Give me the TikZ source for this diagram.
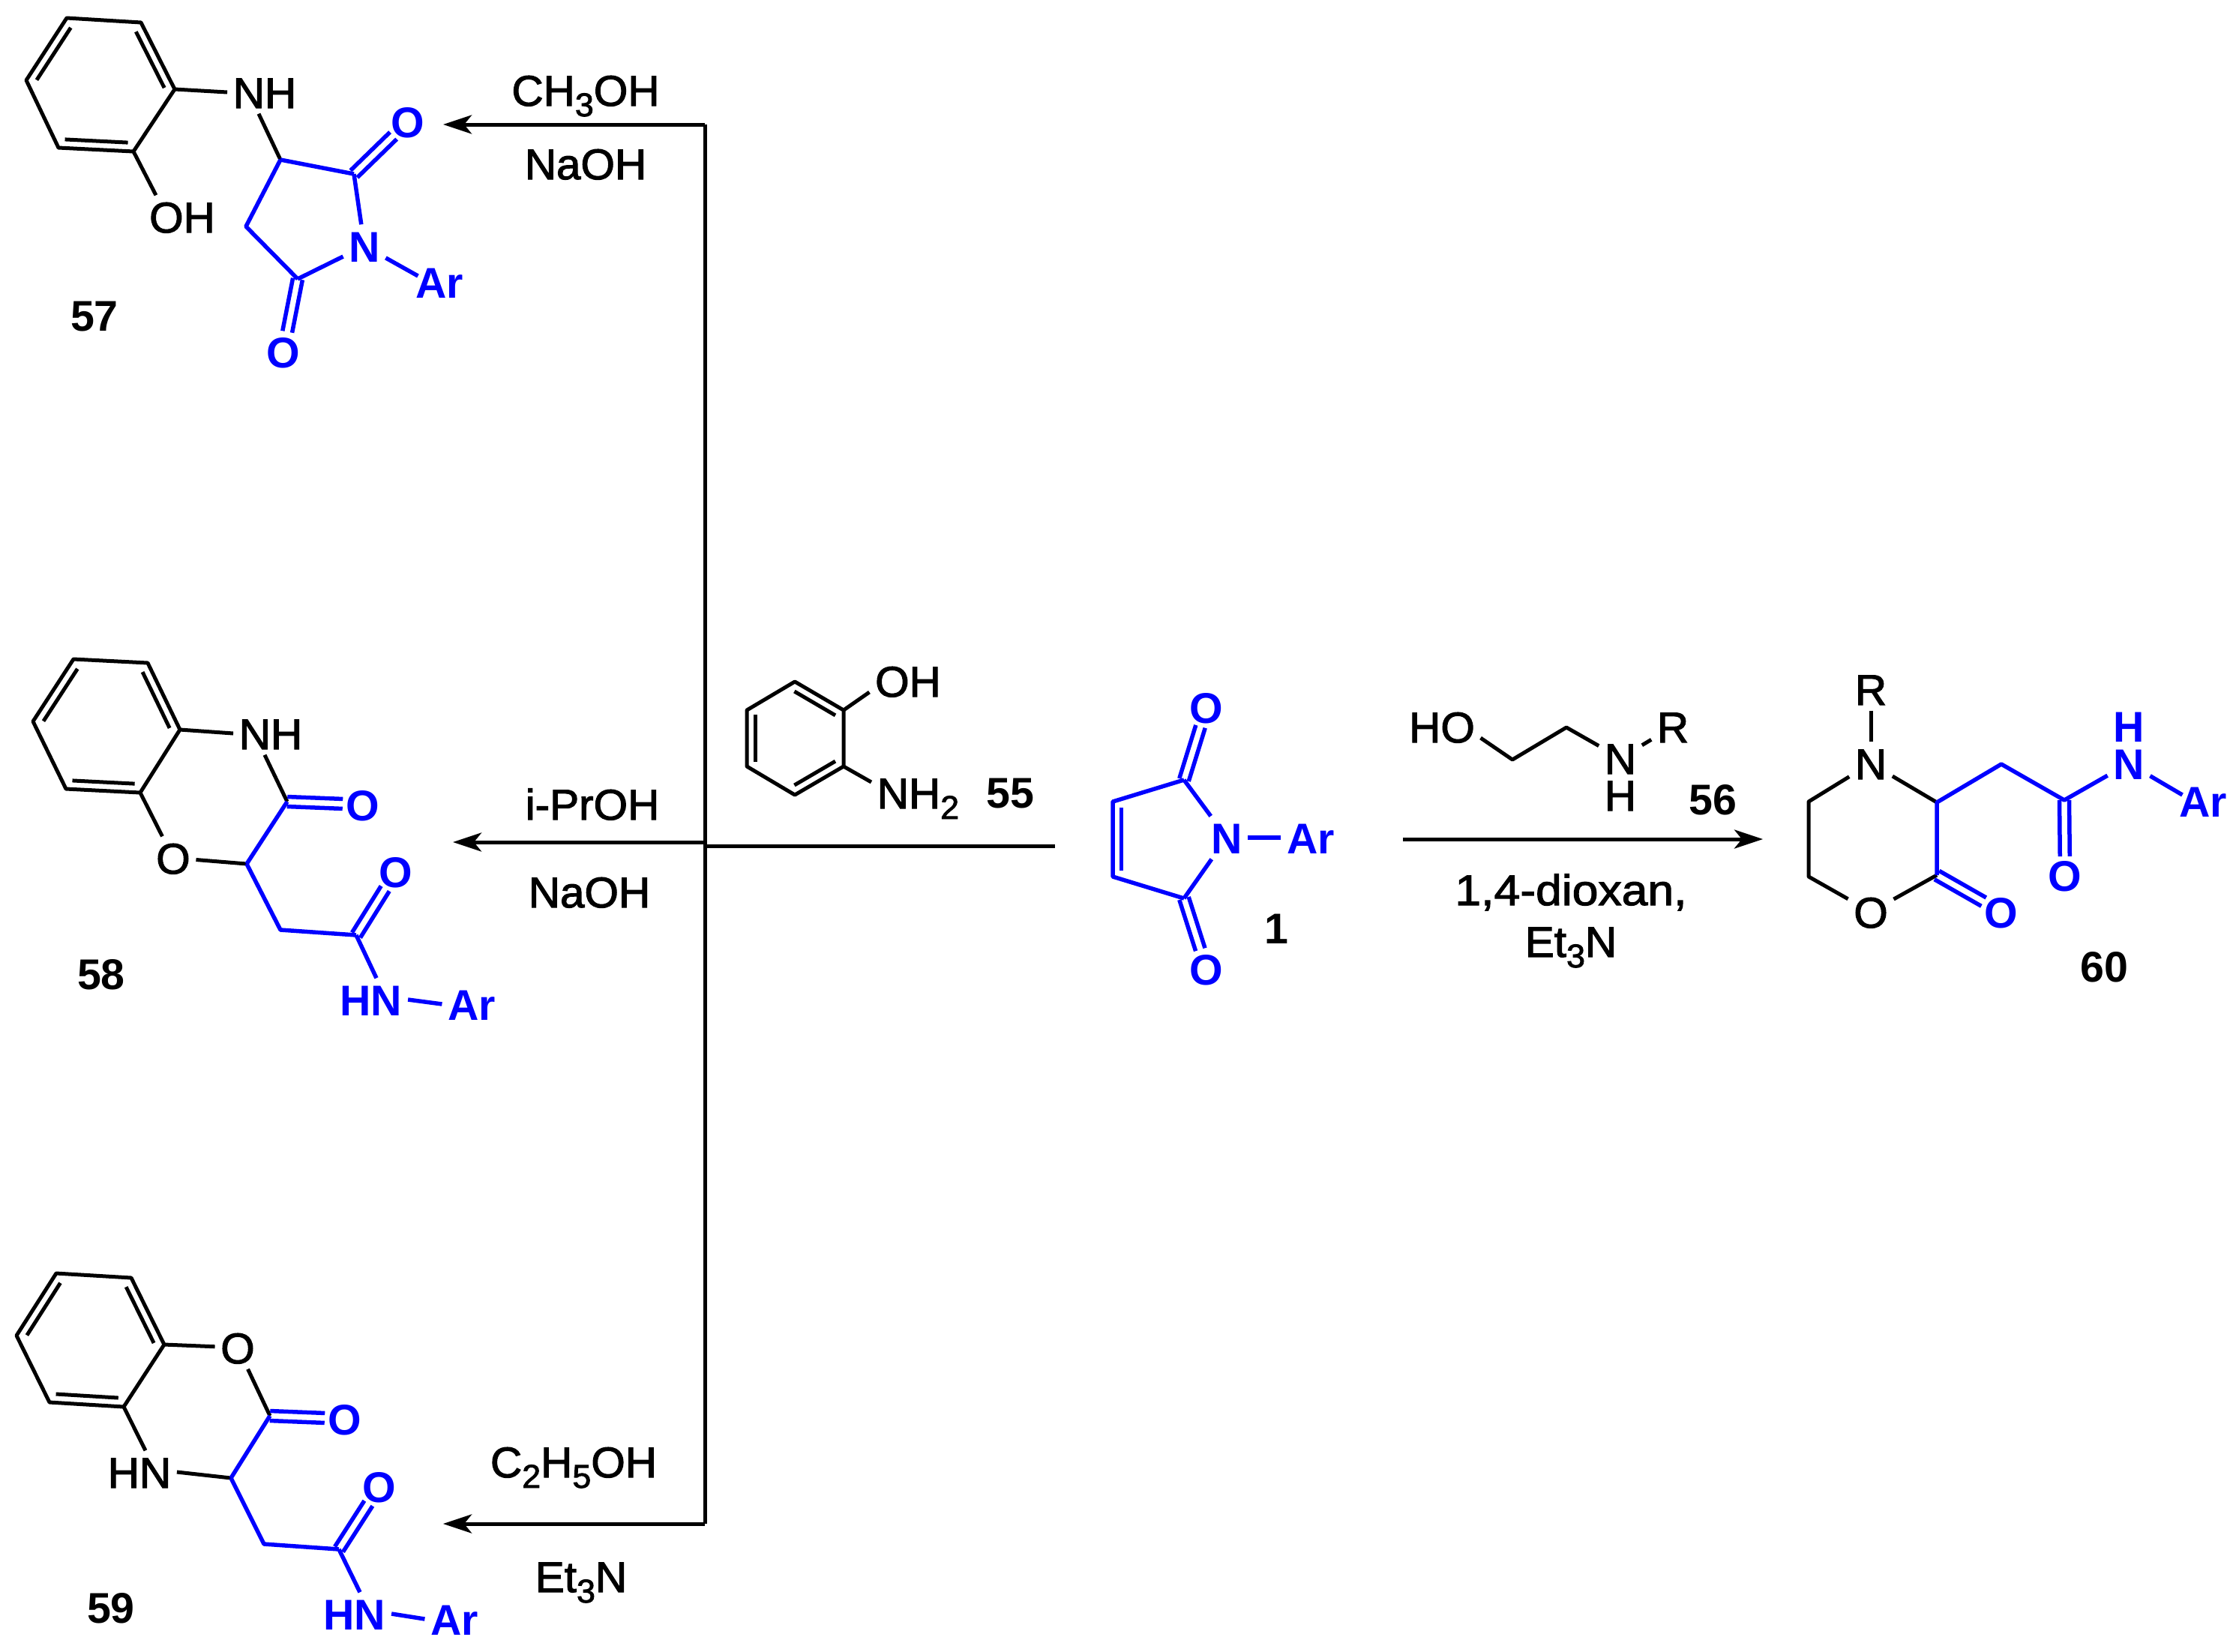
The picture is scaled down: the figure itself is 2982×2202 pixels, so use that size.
\documentclass[tikz,border=0pt]{standalone}
\usepackage{fontspec}
\setmainfont{Liberation Sans}
\newfontfamily\medfont[FakeStretch=1.02,RawFeature={embolden=2}]{Liberation Sans}
\newfontfamily\widefont[FakeStretch=1.09,RawFeature={embolden=2}]{Liberation Sans}
\usetikzlibrary{calc,arrows.meta}
\tikzstyle{txt} = [inner sep=0.07cm, text height=0.42cm, text depth=0pt]
\tikzstyle{atom} = [txt, font=\fontsize{16.3}{20}\medfont]
\tikzstyle{batom} = [txt, text=blue, font=\fontsize{16.3}{20}\selectfont\bfseries]
\tikzstyle{cpd} = [txt, font=\fontsize{16.3}{20}\selectfont\bfseries]
\tikzstyle{bond} = [line width=0.05cm, line join=round]
\tikzstyle{bbond} = [bond, blue, line width=0.055cm]
\tikzstyle{arrow} = [line width=0.05cm, -{Stealth[length=0.38cm,width=0.25cm,inset=0.1cm]}]
\newcommand{\low}[1]{\raisebox{-0.14cm}{\fontsize{12.5}{14}\selectfont #1}}
% inner line of a ring double bond
\newcommand{\inbond}[3][bond]{\draw[#1] ($(#2)!0.08!(#3)!0.115cm!-90:(#3)$) -- ($(#3)!0.08!(#2)!0.115cm!90:(#2)$);}
% C=O, both lines
\newcommand{\dbond}[3][0.27cm]{
\draw[bbond, shorten >=#1] ($(#2)!0.065cm!90:(#3)$) -- ($(#3)!0.065cm!-90:(#2)$);
\draw[bbond, shorten >=#1] ($(#2)!0.065cm!-90:(#3)$) -- ($(#3)!0.065cm!90:(#2)$);}
\begin{document}
\begin{tikzpicture}[x=0.01cm,y=-0.01cm]
\useasboundingbox (0,0) rectangle (2982,2202);
% 57
\draw (89,24) coordinate (a1);
\draw (188,30) coordinate (a2);
\draw (233,119) coordinate (a3);
\draw (178,202) coordinate (a4);
\draw (78,197) coordinate (a5);
\draw (35,107) coordinate (a6);
\draw (374,213) coordinate (a7);
\draw (472,232) coordinate (a8);
\draw (328,302) coordinate (a9);
\draw (397,372) coordinate (a10);
\draw (353,123) node (anh) [atom] {NH};
\draw (243,289) node (aoh) [atom] {OH};
\draw (544,162) node (ao1) [batom] {O};
\draw (378,469) node (ao2) [batom] {O};
\draw (486,328) node (an) [batom] {N};
\draw (586,376) node (aar) [batom] {Ar};
\draw (126,420) node (n57) [cpd] {57};
\draw[bond] (a1)--(a2)--(a3)--(a4)--(a5)--(a6)--cycle;
\inbond{a6}{a1}
\inbond{a2}{a3}
\inbond{a4}{a5}
\draw[bond] (a3)--(anh.west);
\draw[bond] (a4)--([xshift=-0.35cm]aoh.north);
\draw[bond] (a7)--([xshift=-0.08cm]anh.south);
\draw[bbond] (a7)--(a8);
\draw[bbond] (a8)--(an);
\draw[bbond] (a7)--(a9)--(a10);
\draw[bbond] (a10)--(an);
\draw[bbond] (an)--([xshift=0.11cm,yshift=0.08cm]aar.west);
\dbond{a8}{ao1}
\dbond{a10}{ao2}
% 58
\draw (98,879) coordinate (b1);
\draw (197,884) coordinate (b2);
\draw (240,973) coordinate (b3);
\draw (187,1057) coordinate (b4);
\draw (88,1052) coordinate (b5);
\draw (44,962) coordinate (b6);
\draw (383,1069) coordinate (b7);
\draw (329,1152) coordinate (b8);
\draw (374,1240) coordinate (b9);
\draw (475,1247) coordinate (b10);
\draw (361,978) node (bnh) [atom] {NH};
\draw (231,1144) node (bo) [atom] {O};
\draw (484,1073) node (bo1) [batom] {O};
\draw (528,1162) node (bo2) [batom] {O};
\draw (495,1333) node (bhn) [batom] {HN};
\draw (629,1339) node (bar) [batom] {Ar};
\draw (135,1298) node (n58) [cpd] {58};
\draw[bond] (b1)--(b2)--(b3)--(b4)--(b5)--(b6)--cycle;
\inbond{b6}{b1}
\inbond{b2}{b3}
\inbond{b4}{b5}
\draw[bond] (b3)--(bnh.west);
\draw[bond] (b7)--([xshift=-0.08cm]bnh.south);
\draw[bond] (b4)--(bo);
\draw[bond] (bo)--(b8);
\draw[bbond] (b8)--(b7);
\draw[bbond] (b8)--(b9)--(b10);
\draw[bbond] (b10)--([xshift=0.07cm]bhn.north);
\draw[bbond] (bhn.east)--(bar.west);
\dbond{b7}{bo1}
\dbond{b10}{bo2}
% 59
\draw (75,1698) coordinate (c1);
\draw (175,1704) coordinate (c2);
\draw (219,1793) coordinate (c3);
\draw (165,1876) coordinate (c4);
\draw (66,1870) coordinate (c5);
\draw (22,1781) coordinate (c6);
\draw (360,1888) coordinate (c7);
\draw (308,1971) coordinate (c8);
\draw (352,2059) coordinate (c9);
\draw (452,2066) coordinate (c10);
\draw (317,1797) node (co) [atom] {O};
\draw (186,1963) node (chn) [atom] {HN};
\draw (460,1892) node (co1) [batom] {O};
\draw (506,1982) node (co2) [batom] {O};
\draw (473,2152) node (chb) [batom] {HN};
\draw (606,2159) node (car) [batom] {Ar};
\draw (148,2143) node (n59) [cpd] {59};
\draw[bond] (c1)--(c2)--(c3)--(c4)--(c5)--(c6)--cycle;
\inbond{c6}{c1}
\inbond{c2}{c3}
\inbond{c4}{c5}
\draw[bond] (c3)--(co);
\draw[bond] (co)--(c7);
\draw[bond] (c4)--([xshift=0.08cm]chn.north);
\draw[bond] (chn.east)--(c8);
\draw[bbond] (c8)--(c7);
\draw[bbond] (c8)--(c9)--(c10);
\draw[bbond] (c10)--([xshift=0.07cm]chb.north);
\draw[bbond] (chb.east)--(car.west);
\dbond{c7}{co1}
\dbond{c10}{co2}
% 55
\draw (1060,909) coordinate (d1);
\draw (1125,947) coordinate (d2);
\draw (1125,1022) coordinate (d3);
\draw (1060,1060) coordinate (d4);
\draw (996,1022) coordinate (d5);
\draw (996,947) coordinate (d6);
\draw (1211,908) node (doh) [atom] {OH};
\draw (1162,1057) node (dnh) [atom,anchor=west] {NH\low{2}};
\draw (1347,1056) node (n55) [cpd] {55};
\draw[bond] (d1)--(d2)--(d3)--(d4)--(d5)--(d6)--cycle;
\inbond{d1}{d2}
\inbond{d3}{d4}
\inbond{d5}{d6}
\draw[bond] (d2)--([yshift=-0.15cm]doh.west);
\draw[bond] (d3)--([yshift=0.14cm]dnh.west);
% 1
\draw (1579,1040) coordinate (e1);
\draw (1484,1069) coordinate (e2);
\draw (1484,1169) coordinate (e3);
\draw (1579,1198) coordinate (e4);
\draw (1636,1117) node (en) [batom] {N};
\draw (1748,1117) node (ear) [batom] {Ar};
\draw (1609,943) node (eo1) [batom] {O};
\draw (1609,1292) node (eo2) [batom] {O};
\draw (1702,1237) node (n1) [cpd] {1};
\draw[bbond] (e1)--(e2)--(e3)--(e4);
\inbond[bbond]{e3}{e2}
\draw[bbond] (e1)--(en);
\draw[bbond] (e4)--(en);
\draw[bbond] (en)--(ear);
\dbond{e1}{eo1}
\dbond{e4}{eo2}
% 56
\draw (2017,1013) coordinate (f1);
\draw (2089,970) coordinate (f2);
\draw (1923,969) node (fho) [atom] {HO};
\draw (2161,1011) node (fn) [atom] {N};
\draw (2161,1060) node (fh) [atom] {H};
\draw (2231,969) node (fr) [atom] {R};
\draw (2284,1065) node (n56) [cpd] {56};
\draw[bond] ([yshift=-0.15cm]fho.east)--(f1)--(f2)--(fn);
\draw[bond] (fn)--(fr);
% 60
\draw (2412,1069) coordinate (g1);
\draw (2412,1169) coordinate (g2);
\draw (2583,1070) coordinate (g3);
\draw (2583,1167) coordinate (g4);
\draw (2669,1019) coordinate (g5);
\draw (2753,1067) coordinate (g6);
\draw (2495,919) node (gr) [atom] {R};
\draw (2495,1018) node (gn) [atom] {N};
\draw (2495,1216) node (go) [atom] {O};
\draw (2669,1216) node (go1) [batom] {O};
\draw (2754,1167) node (go2) [batom] {O};
\draw (2839,1018) node (gnb) [batom] {N};
\draw (2839,968) node (gh) [batom] {H};
\draw (2938,1068) node (gar) [batom] {Ar};
\draw (2806,1288) node (n60) [cpd] {60};
\draw[bond] (gr)--(gn);
\draw[bond] (gn)--(g1)--(g2)--(go);
\draw[bond] (go)--(g4);
\draw[bond] (gn)--(g3);
\draw[bbond] (g4)--(g3)--(g5)--(g6)--(gnb);
\draw[bbond] (gnb)--([xshift=0.12cm,yshift=0.08cm]gar.west);
\dbond{g4}{go1}
\dbond[0.25cm]{g6}{go2}
% arrows and reagents
\draw (940,166) coordinate (j1);
\draw (940,1123) coordinate (j2);
\draw (940,1128) coordinate (j3);
\draw (940,2032) coordinate (j4);
\draw (591,166) coordinate (t57);
\draw (604,1123) coordinate (t58);
\draw (591,2032) coordinate (t59);
\draw (1407,1128) coordinate (s1);
\draw (1871,1119) coordinate (s2);
\draw (2351,1119) coordinate (t60);
\draw[bond] (j1)--(j4);
\draw[bond] (j3)--(s1);
\draw[arrow] (j1)--(t57);
\draw[arrow] (j2)--(t58);
\draw[arrow] (j4)--(t59);
\draw[arrow] (s2)--(t60);
\draw (781,120) node (r1) [atom] {CH\low{3}OH};
\draw (781,218) node (r2) [atom] {NaOH};
\draw (790,1072) node (r3) [atom] {i-PrOH};
\draw (786,1189) node (r4) [atom] {NaOH};
\draw (765,1949) node (r5) [atom] {C\low{2}H\low{5}OH};
\draw (775,2102) node (r6) [atom] {Et\low{3}N};
\draw (2095,1186) node (r7) [atom,font=\fontsize{16.3}{20}\widefont] {1,4-dioxan,};
\draw (2095,1255) node (r8) [atom] {Et\low{3}N};
\end{tikzpicture}
\end{document}
